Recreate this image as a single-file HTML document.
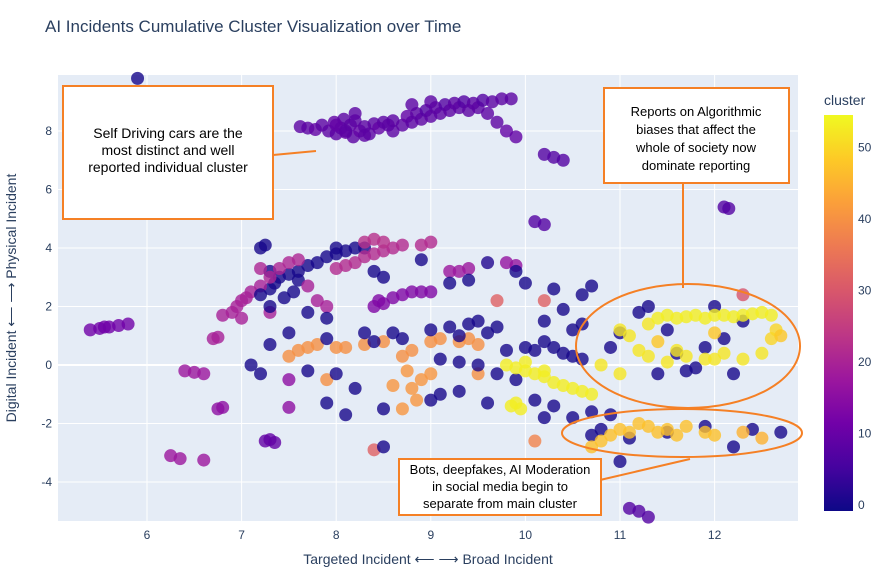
<!DOCTYPE html>
<html><head><meta charset="utf-8"><style>
body{margin:0;background:#fff;font-family:"Liberation Sans",sans-serif}
svg text{font-family:"Liberation Sans",sans-serif}
</style></head><body>
<svg width="878" height="578" viewBox="0 0 878 578">
<text x="45" y="32" font-size="17" fill="#2a3f5f">AI Incidents Cumulative Cluster Visualization over Time</text>
<rect x="58" y="75" width="740" height="446" fill="#e5ecf6"/>
<g id="grid"></g>
<g id="pts"></g>
<defs><linearGradient id="cb" x1="0" y1="1" x2="0" y2="0">
<stop offset="0" stop-color="#0d0887"/><stop offset=".111" stop-color="#46039f"/><stop offset=".222" stop-color="#7201a8"/><stop offset=".333" stop-color="#9c179e"/><stop offset=".444" stop-color="#bd3786"/><stop offset=".556" stop-color="#d8576b"/><stop offset=".667" stop-color="#ed7953"/><stop offset=".778" stop-color="#fb9f3a"/><stop offset=".889" stop-color="#fdca26"/><stop offset="1" stop-color="#f0f921"/></linearGradient></defs>
<text x="824" y="105" font-size="14" fill="#2a3f5f">cluster</text>
<rect x="824" y="115" width="29" height="396" fill="url(#cb)"/>
<g id="cbt"></g>
<text x="428" y="564" font-size="14" fill="#2a3f5f" text-anchor="middle">Targeted Incident ⟵ ⟶ Broad Incident</text>
<text transform="translate(16,298) rotate(-90)" font-size="14" fill="#2a3f5f" text-anchor="middle">Digital Incident ⟵ ⟶ Physical Incident</text>
<g fill="none" stroke="#f58025" stroke-width="2">
<line x1="273" y1="155" x2="316" y2="151"/>
<line x1="683" y1="184" x2="683" y2="288"/>
<line x1="600" y1="480" x2="690" y2="459"/>
<ellipse cx="688" cy="346" rx="112" ry="62"/>
<ellipse cx="682" cy="433" rx="120" ry="24"/>
</g>
<g>
<rect x="63" y="86" width="210" height="133" fill="#fff" stroke="#f58025" stroke-width="2"/>
<text font-size="14" fill="#000" text-anchor="middle"><tspan x="168" y="138">Self Driving cars are the</tspan><tspan x="168" y="155">most distinct and well</tspan><tspan x="168" y="172">reported individual cluster</tspan></text>
</g>
<g>
<rect x="604" y="88" width="185" height="95" fill="#fff" stroke="#f58025" stroke-width="2"/>
<text font-size="13" fill="#000" text-anchor="middle"><tspan x="696" y="116">Reports on Algorithmic</tspan><tspan x="696" y="134">biases that affect the</tspan><tspan x="696" y="152">whole of society now</tspan><tspan x="696" y="170">dominate reporting</tspan></text>
</g>
<g>
<rect x="399" y="459" width="202" height="56" fill="#fff" stroke="#f58025" stroke-width="2"/>
<text font-size="13" fill="#000" text-anchor="middle"><tspan x="500" y="474">Bots, deepfakes, AI Moderation</tspan><tspan x="500" y="491">in social media begin to</tspan><tspan x="500" y="508">separate from main cluster</tspan></text>
</g>
</svg>
<script>
const xTicks=[6,7,8,9,10,11,12];
const yTicks=[-4,-2,0,2,4,6,8];
const cbTicks=[0,10,20,30,40,50];
const points=[
[7.62,8.15,9],[7.7,8.1,9],[7.78,8.05,10],[7.85,8.2,9],[7.92,8.0,9],[7.98,8.3,10],[8.0,7.9,9],[8.05,8.1,9],[8.08,8.4,9],[8.1,7.95,10],[8.15,8.2,9],[8.18,7.8,9],[8.2,8.35,9],[8.25,8.0,10],[8.3,8.15,9],[8.35,7.9,9],[8.4,8.25,9],[8.45,8.1,10],[8.5,8.3,9],[8.55,8.2,9],[8.6,8.35,9],[8.7,8.2,9],[8.75,8.5,10],[8.8,8.3,9],[8.85,8.6,9],[8.9,8.4,9],[8.95,8.7,8],[9.0,8.5,9],[9.05,8.8,9],[9.1,8.6,9],[9.15,8.9,8],[9.2,8.7,9],[9.25,8.95,9],[9.3,8.8,9],[9.35,9.0,8],[9.4,8.7,9],[9.45,8.95,9],[9.5,8.8,9],[9.55,9.05,8],[9.6,8.6,9],[9.65,9.0,9],[9.7,8.3,9],[9.75,9.1,9],[9.8,8.0,10],[9.85,9.1,9],[9.9,7.8,10],[8.8,8.9,9],[9.0,9.0,9],[8.2,8.6,9],[8.6,8.0,9],[8.0,8.2,10],[8.1,8.0,9],[8.3,7.85,9],
[7.3,2.6,1],[7.35,2.8,1],[7.4,3.0,1],[7.5,3.1,1],[7.6,3.2,1],[7.7,3.4,1],[7.8,3.5,1],[7.9,3.7,1],[8.0,3.8,1],[8.1,3.9,1],[8.2,4.0,1],[8.3,4.0,1],[7.25,4.1,1],[7.2,4.0,1],[7.3,3.2,1],[7.55,2.5,1],[7.45,2.3,1],[7.6,2.9,1],[8.4,3.2,1],[8.5,3.0,1],
[6.9,1.8,20],[6.95,2.0,20],[7.0,2.2,20],[7.05,2.3,20],[7.1,2.5,20],[7.2,2.7,20],[7.3,3.0,21],[7.4,3.3,21],[7.5,3.5,21],[7.6,3.6,21],[7.7,2.7,20],[7.8,2.2,20],[7.9,2.0,20],[6.8,1.7,20],[7.0,1.6,20],[7.3,1.8,20],[7.2,3.3,21],
[8.0,3.3,22],[8.1,3.4,22],[8.2,3.5,22],[8.3,3.7,22],[8.4,3.8,22],[8.5,3.9,22],[8.6,4.0,22],[8.7,4.1,22],[8.3,4.2,23],[8.4,4.3,23],[8.5,4.2,23],[8.9,4.1,22],[9.0,4.2,22],
[8.4,2.0,14],[8.5,2.1,14],[8.6,2.3,14],[8.7,2.4,14],[8.8,2.5,14],[8.9,2.5,14],[9.0,2.5,14],[8.45,2.2,14],
[9.2,3.2,18],[9.3,3.2,18],[9.4,3.3,18],[9.8,3.5,17],[9.9,3.4,17],[9.6,3.5,2],
[5.4,1.2,12],[5.5,1.25,12],[5.6,1.3,12],[5.7,1.35,12],[5.8,1.4,12],[5.55,1.3,12],
[6.4,-0.2,18],[6.5,-0.25,18],[6.6,-0.3,18],[6.75,-1.5,16],[6.8,-1.45,16],[7.25,-2.6,10],[7.35,-2.65,10],[7.3,-2.55,10],[6.25,-3.1,18],[6.35,-3.2,18],[6.6,-3.25,18],[6.7,0.9,20],[6.75,0.95,20],[7.5,-0.5,16],[7.5,-1.45,16],
[7.5,0.3,40],[7.6,0.5,40],[7.7,0.6,40],[7.8,0.7,40],[8.0,0.6,40],[8.1,0.6,40],[8.3,0.7,40],[8.5,0.8,40],[8.8,0.5,40],[9.0,0.8,40],[9.1,0.9,40],[9.3,0.8,40],[9.5,0.7,40],[8.7,0.3,40],[8.75,-0.2,41],[8.8,-0.8,41],[8.85,-1.2,41],[8.7,-1.5,41],[8.9,-0.5,41],[9.0,-0.3,41],[8.6,-0.7,41],[7.9,-0.5,40],[9.4,0.9,40],[9.7,2.2,32],[10.2,2.2,32],[10.1,-2.6,38],[8.4,-2.9,32],[9.5,-0.3,40],
[7.2,2.4,1],[7.3,2.0,1],[7.7,1.8,1],[7.9,1.6,1],[8.3,1.1,1],[8.4,0.8,1],[8.6,1.1,1],[8.7,0.9,1],[9.0,1.2,1],[9.2,1.3,1],[9.3,1.0,1],[9.4,1.4,1],[9.5,1.5,1],[9.6,1.1,1],[9.7,1.3,1],[9.8,0.5,1],[10.0,0.6,1],[10.1,0.5,1],[10.2,0.8,1],[10.3,0.6,1],[10.4,0.4,1],[10.5,0.3,1],[10.6,0.2,1],[10.5,1.2,1],[10.6,1.4,1],[10.6,2.4,1],[10.7,2.7,1],[9.1,0.2,1],[9.3,0.1,1],[9.5,0.0,1],[9.7,-0.3,1],[9.9,-0.5,1],[10.1,-1.2,1],[10.3,-1.4,1],[10.5,-1.8,1],[10.7,-1.6,1],[10.8,-2.2,1],[9.1,-1.0,1],[9.3,-0.9,1],[9.0,-1.2,1],[8.5,-1.5,1],[8.2,-0.8,1],[8.0,-0.3,1],[7.7,-0.2,1],[7.3,0.7,1],[7.5,1.1,1],[8.1,-1.7,1],[8.5,-2.8,1],[7.9,-1.3,1],[7.1,0.0,1],[7.2,-0.3,1],[10.9,0.6,1],[11.0,1.1,1],[11.2,1.8,1],[11.3,2.0,1],[11.5,1.2,1],[11.6,0.4,1],[11.8,-0.1,1],[11.9,0.6,1],[12.1,0.9,1],[12.2,-0.3,1],[12.0,2.0,1],[12.3,1.5,1],[11.4,-0.3,1],[11.7,-0.2,1],[12.4,-2.2,1],[12.2,-2.8,1],[12.7,-2.3,1],[11.1,-2.5,1],[11.0,-3.3,1],[11.5,-2.3,1],[11.9,-2.1,1],[10.9,-1.7,1],[10.7,-2.4,1],[8.0,4.0,1],[7.9,0.9,1],[9.6,-1.3,1],[10.2,-1.8,1],[8.9,3.6,1],[9.2,2.8,1],[9.4,2.9,1],[10.3,2.6,1],[10.4,1.9,1],[10.2,1.5,1],[9.9,3.2,1],[10.0,2.8,1],[5.9,9.8,1],
[10.2,7.2,8],[10.3,7.1,8],[10.4,7.0,8],[10.1,4.9,8],[10.2,4.8,8],[12.1,5.4,8],[12.15,5.35,8],[11.1,-4.9,8],[11.2,-5.0,8],[11.3,-5.2,8],[12.3,2.4,30],
[9.8,0.0,53],[9.9,-0.1,53],[10.0,-0.2,53],[10.1,-0.3,53],[10.2,-0.4,53],[10.3,-0.6,53],[10.4,-0.7,53],[10.5,-0.8,53],[10.6,-0.9,53],[10.7,-1.0,53],[9.9,-1.3,53],[9.85,-1.4,53],[9.95,-1.5,53],[10.0,0.1,53],[10.2,-0.2,53],
[11.0,1.2,52],[11.1,1.0,52],[11.2,0.5,52],[11.3,1.4,52],[11.4,1.6,53],[11.5,1.7,53],[11.6,1.6,53],[11.7,1.65,53],[11.8,1.7,53],[11.9,1.6,53],[12.0,1.7,53],[12.1,1.7,53],[12.2,1.65,53],[12.3,1.7,53],[12.4,1.75,53],[12.5,1.8,53],[12.6,1.7,53],[11.3,0.3,52],[11.5,0.1,52],[11.6,0.5,52],[11.7,0.3,52],[11.9,0.2,52],[12.0,0.2,52],[12.1,0.4,52],[12.3,0.2,52],[12.5,0.4,52],[12.6,0.9,50],[12.65,1.2,50],[10.8,0.0,52],[11.0,-0.3,52],
[10.7,-2.8,47],[10.8,-2.6,47],[10.9,-2.4,47],[11.0,-2.2,47],[11.1,-2.3,47],[11.2,-2.0,47],[11.3,-2.1,47],[11.4,-2.3,47],[11.5,-2.2,47],[11.6,-2.4,47],[11.7,-2.1,47],[11.9,-2.3,47],[12.0,-2.4,47],[12.3,-2.3,45],[12.5,-2.5,45],[12.0,1.1,48],[11.4,0.8,48],[12.7,1.0,48]
];
const NS='http://www.w3.org/2000/svg';
const xS=v=>147+(v-6)*94.6, yS=v=>365-v*29.25;
const cS=v=>505-v*7.15;
const stops=[[0,'#0d0887'],[.111,'#46039f'],[.222,'#7201a8'],[.333,'#9c179e'],[.444,'#bd3786'],[.556,'#d8576b'],[.667,'#ed7953'],[.778,'#fb9f3a'],[.889,'#fdca26'],[1,'#f0f921']];
function col(c){let t=Math.max(0,Math.min(1,c/54.5));for(let i=1;i<stops.length;i++){if(t<=stops[i][0]){const a=stops[i-1],b=stops[i],f=(t-a[0])/(b[0]-a[0]);const h=s=>[1,3,5].map(k=>parseInt(s.substr(k,2),16));const A=h(a[1]),B=h(b[1]);return 'rgb('+A.map((v,k)=>Math.round(v+(B[k]-v)*f)).join(',')+')';}}return '#f0f921';}
const g=document.getElementById('grid');
function mk(tag,attrs,parent){const e=document.createElementNS(NS,tag);for(const k in attrs)e.setAttribute(k,attrs[k]);parent.appendChild(e);return e;}
xTicks.forEach(v=>{const l=mk('line',{x1:xS(v),x2:xS(v),y1:75,y2:521,stroke:'#fff','stroke-width':1},g);


const t=mk('text',{x:xS(v),y:539,'font-size':12,fill:'#2a3f5f','text-anchor':'middle'},g);t.textContent=v;

});
yTicks.forEach(v=>{const l=mk('line',{x1:58,x2:798,y1:yS(v),y2:yS(v),stroke:'#fff','stroke-width':v===0?2:1},g);


const t=mk('text',{x:52,y:yS(v)+4,'font-size':12,fill:'#2a3f5f','text-anchor':'end'},g);t.textContent=v;

});
const pg=document.getElementById('pts');
points.forEach(p=>{const c=mk('circle',{cx:xS(p[0]),cy:yS(p[1]),r:6.5,fill:col(p[2]),'fill-opacity':0.8},pg);

});
const cb=document.getElementById('cbt');
cbTicks.forEach(v=>{const t=mk('text',{x:858,y:cS(v)+4,'font-size':12,fill:'#2a3f5f'},cb);t.textContent=v;

});
</script>
</body></html>
